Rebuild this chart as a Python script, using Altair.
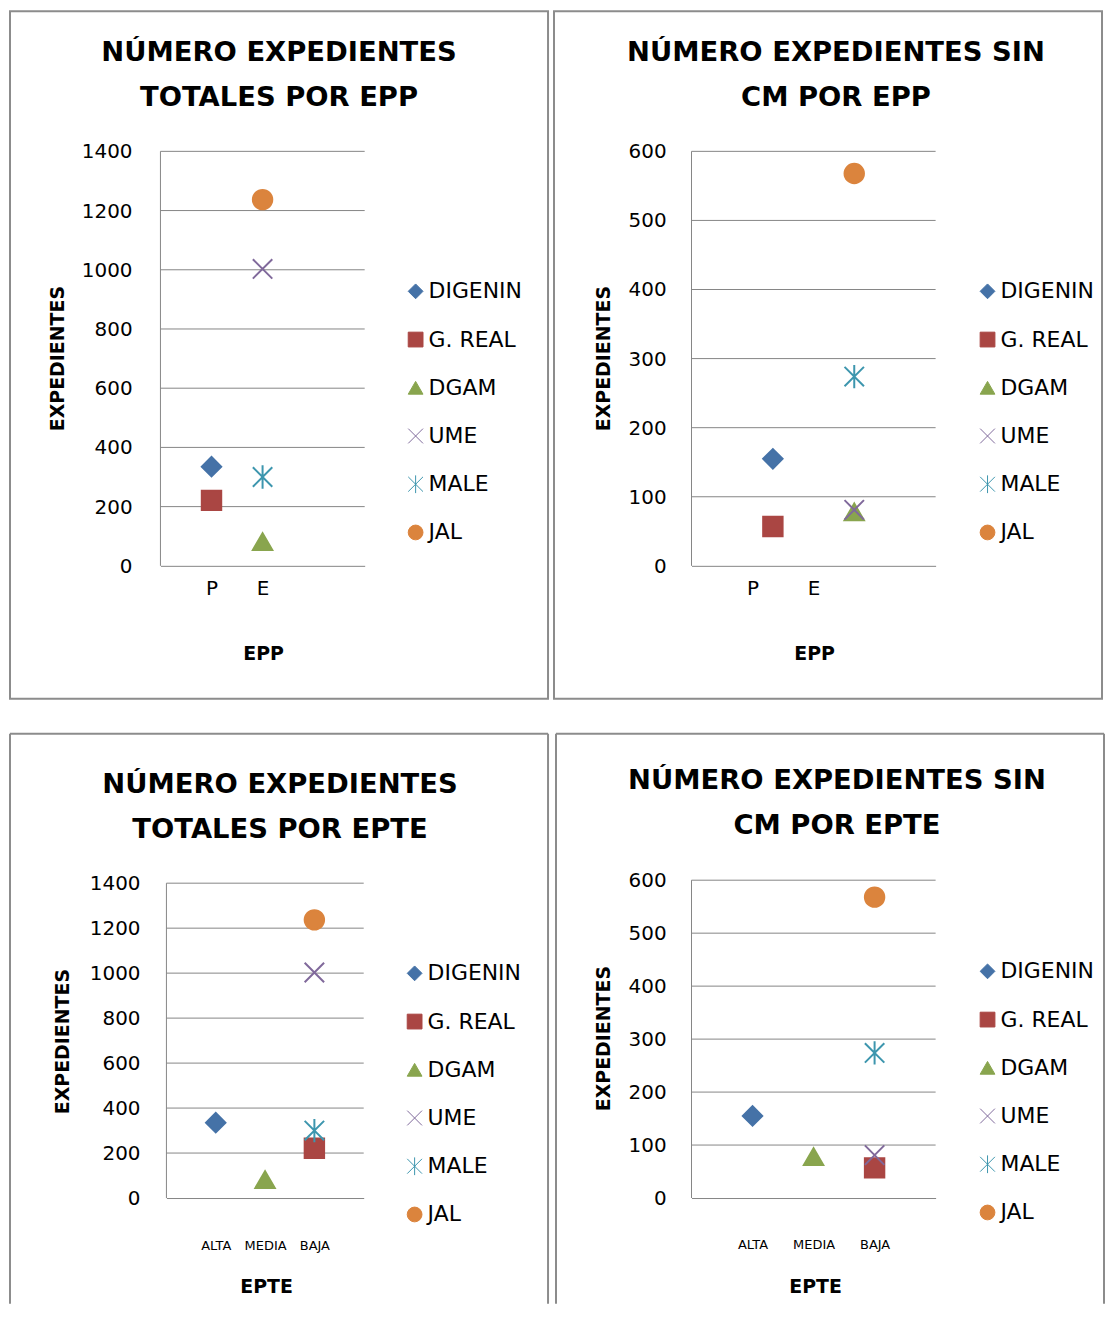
import altair as alt
import pandas as pd

# ---- data ----
series = ["DIGENIN", "G. REAL", "DGAM", "UME", "MALE", "JAL"]
epp_cat = ["P", "P", "E", "E", "E", "E"]
epte_cat = ["ALTA", "BAJA", "MEDIA", "BAJA", "BAJA", "BAJA"]
totales = [335, 221, 82, 1003, 300, 1237]
sin_cm = [155, 57, 78, 81, 274, 568]

epp_labels = ["P", "E"]
epte_labels = ["ALTA", "MEDIA", "BAJA"]
ticks_totales = [0, 200, 400, 600, 800, 1000, 1200, 1400]
ticks_sin = [0, 100, 200, 300, 400, 500, 600]

title_tot_epp = ["NÚMERO EXPEDIENTES", "TOTALES POR EPP"]
title_sin_epp = ["NÚMERO EXPEDIENTES SIN", "CM POR EPP"]
title_tot_epte = ["NÚMERO EXPEDIENTES", "TOTALES POR EPTE"]
title_sin_epte = ["NÚMERO EXPEDIENTES SIN", "CM POR EPTE"]
y_title = "EXPEDIENTES"

# ---- style ----
colors = ["#4572A7", "#AA4643", "#89A54E", "#80699B", "#3D96AE", "#DB843D"]
X_PATH = "M-1,-1L1,1M-1,1L1,-1"
AST_PATH = "M-1,-1L1,1M-1,1L1,-1M0,-1.2L0,1.2"
shapes = ["diamond", "square", "triangle-up", X_PATH, AST_PATH, "circle"]
FONT = "DejaVu Sans"
GRID = "#868686"
BORDER = "#8c8c8c"


def one_row():
    return pd.DataFrame({"a": [0]})


def panel(title_lines, cats, labels, values, ticks, xmax, label_xmax,
          origin, box, plot, title_x, title_y, ytitle, ylab_gap,
          xlab_size, xlab_pad, xtitle, xtitle_name, legend_pt, open_bottom):
    # all positions are given in page pixels and converted to the panel frame
    ox, oy = origin
    W, H = box
    L, R, T, B = plot[0] - ox, plot[1] - ox, plot[2] - oy, plot[3] - oy

    df = pd.DataFrame({"serie": series, "cat": cats, "valor": values})
    df["pos"] = [labels.index(c) + 1 for c in cats]

    xscale = alt.Scale(domain=[0, xmax], range=[L, R], nice=False, zero=False)
    yscale = alt.Scale(domain=[0, ticks[-1]], range=[B, T], nice=False)

    label_vals = [(i + 1) * xmax / label_xmax for i in range(len(labels))]
    expr = " : ".join(f"datum.value == {v} ? '{lab}'" for v, lab in zip(label_vals, labels)) + " : ''"

    tick_df = pd.DataFrame({"t": ticks, "lab": [str(t) for t in ticks]})

    grid = alt.Chart(tick_df[tick_df.t > 0]).mark_rule(color=GRID, strokeWidth=1).encode(
        x=alt.value(L), x2=alt.value(R),
        y=alt.Y("t:Q", scale=yscale, axis=None),
    )
    ylabels = alt.Chart(tick_df).mark_text(
        font=FONT, fontSize=20, color="black", align="right", baseline="middle", dy=1
    ).encode(
        x=alt.value(L - ylab_gap),
        y=alt.Y("t:Q", scale=yscale, axis=None),
        text="lab:N",
    )
    ydomain = alt.Chart(one_row()).mark_rule(color=GRID, strokeWidth=1).encode(
        x=alt.value(L), y=alt.value(T), y2=alt.value(B))
    ytitle_mark = alt.Chart(pd.DataFrame({"line": [y_title]})).mark_text(
        font=FONT, fontSize=19, fontWeight="bold", color="black",
        align="center", baseline="middle", angle=270,
    ).encode(x=alt.value(ytitle[0] - ox), y=alt.value(ytitle[1] - oy), text="line:N")

    legend = alt.Legend(
        title=None, orient="none",
        legendX=legend_pt[0] - ox - 9.9, legendY=legend_pt[1] - oy - 10.5,
        labelFont=FONT, labelFontSize=22, labelColor="black",
        symbolSize=220, symbolStrokeWidth=1, rowPadding=26.4, labelOffset=2,
        padding=0, direction="vertical",
    )
    cscale = alt.Scale(domain=series, range=colors)

    pts = alt.Chart(df).mark_point(filled=True, size=380, strokeWidth=2, opacity=1).encode(
        x=alt.X("pos:Q", scale=xscale, axis=alt.Axis(
            orient="bottom", offset=-(H - B), values=label_vals, labelExpr=expr,
            ticks=False, tickSize=0, grid=False, domainColor=GRID, domainWidth=1,
            labelFont=FONT, labelFontSize=xlab_size, labelColor="black",
            labelPadding=xlab_pad, labelFlush=False, labelOverlap=False,
            title=xtitle_name, titleFont=FONT, titleFontSize=19, titleFontWeight="bold",
            titleColor="black", titleX=xtitle[0] - ox, titleY=xtitle[1] - oy - B + 2,
            titleAlign="center", titleBaseline="middle", titleAngle=0,
        )),
        y=alt.Y("valor:Q", scale=yscale, axis=None),
        color=alt.Color("serie:N", scale=cscale, legend=legend),
        stroke=alt.Stroke("serie:N", scale=cscale, legend=legend),
        shape=alt.Shape("serie:N", scale=alt.Scale(domain=series, range=shapes), legend=legend),
    )

    texts = []
    for line, ty in zip(title_lines, title_y):
        texts.append(
            alt.Chart(pd.DataFrame({"line": [line]})).mark_text(
                font=FONT, fontSize=27.5, fontWeight="bold", align="center",
                baseline="middle", color="black",
            ).encode(x=alt.value(title_x - ox), y=alt.value(ty - oy + 1.5), text="line:N")
        )

    layers = [grid, ydomain, ylabels, ytitle_mark, pts, *texts]
    props = dict(width=W, height=H)
    if open_bottom:
        # box drawn on three sides only: the reference cuts the bottom panels off
        border = alt.Chart(one_row()).mark_rule(color=BORDER, strokeWidth=2)
        layers = [
            border.encode(x=alt.value(0), x2=alt.value(W), y=alt.value(0)),
            border.encode(x=alt.value(0), y=alt.value(0), y2=alt.value(H)),
            border.encode(x=alt.value(W), y=alt.value(0), y2=alt.value(H)),
        ] + layers
        props["view"] = alt.ViewBackground(stroke="transparent")
    return alt.layer(*layers).properties(**props)


# page position of each panel's box (as it lands on the page)
TOP, BOT = 10.5, 733
LEFT1, LEFT2 = 9, 555

p1 = panel(title_tot_epp, epp_cat, epp_labels, totales, ticks_totales, 4, 4,
           origin=(LEFT1, TOP), box=(540, 690), plot=(160, 365, 151, 567),
           title_x=279, title_y=(51, 96), ytitle=(57, 359), ylab_gap=28,
           xlab_size=20, xlab_pad=13, xtitle=(263, 653), xtitle_name="EPP",
           legend_pt=(415, 291), open_bottom=False)
p2 = panel(title_sin_epp, epp_cat, epp_labels, sin_cm, ticks_sin, 3, 4,
           origin=(LEFT2, TOP), box=(550, 690), plot=(693, 938, 151, 567),
           title_x=838, title_y=(51, 96), ytitle=(605, 359), ylab_gap=25,
           xlab_size=20, xlab_pad=13, xtitle=(816, 653), xtitle_name="EPP",
           legend_pt=(989, 291), open_bottom=False)
p3 = panel(title_tot_epte, epte_cat, epte_labels, totales, ticks_totales, 4, 4,
           origin=(LEFT1, BOT), box=(540, 572), plot=(166, 364, 883, 1199),
           title_x=280, title_y=(783, 828), ytitle=(62, 1042), ylab_gap=26,
           xlab_size=13, xlab_pad=42, xtitle=(266, 1286), xtitle_name="EPTE",
           legend_pt=(414, 973), open_bottom=True)
p4 = panel(title_sin_epte, epte_cat, epte_labels, sin_cm, ticks_sin, 4, 4,
           origin=(LEFT2, BOT), box=(550, 572), plot=(691, 936, 880, 1199),
           title_x=837, title_y=(779, 824), ytitle=(603, 1039), ylab_gap=25,
           xlab_size=13, xlab_pad=41, xtitle=(815, 1286), xtitle_name="EPTE",
           legend_pt=(987, 971), open_bottom=True)


def indep(c):
    return c.resolve_scale(
        x="independent", y="independent", color="independent",
        stroke="independent", shape="independent",
    ).resolve_legend(color="independent", stroke="independent", shape="independent")


top = indep(alt.hconcat(p1, p2, spacing=4))
bottom = indep(alt.hconcat(p3, p4, spacing=4))
chart = indep(alt.vconcat(top, bottom, spacing=32)).properties(
    padding=0
).configure_view(stroke=BORDER, strokeWidth=2)

chart.save("out.html", embed_options={"renderer": "svg", "actions": False})
